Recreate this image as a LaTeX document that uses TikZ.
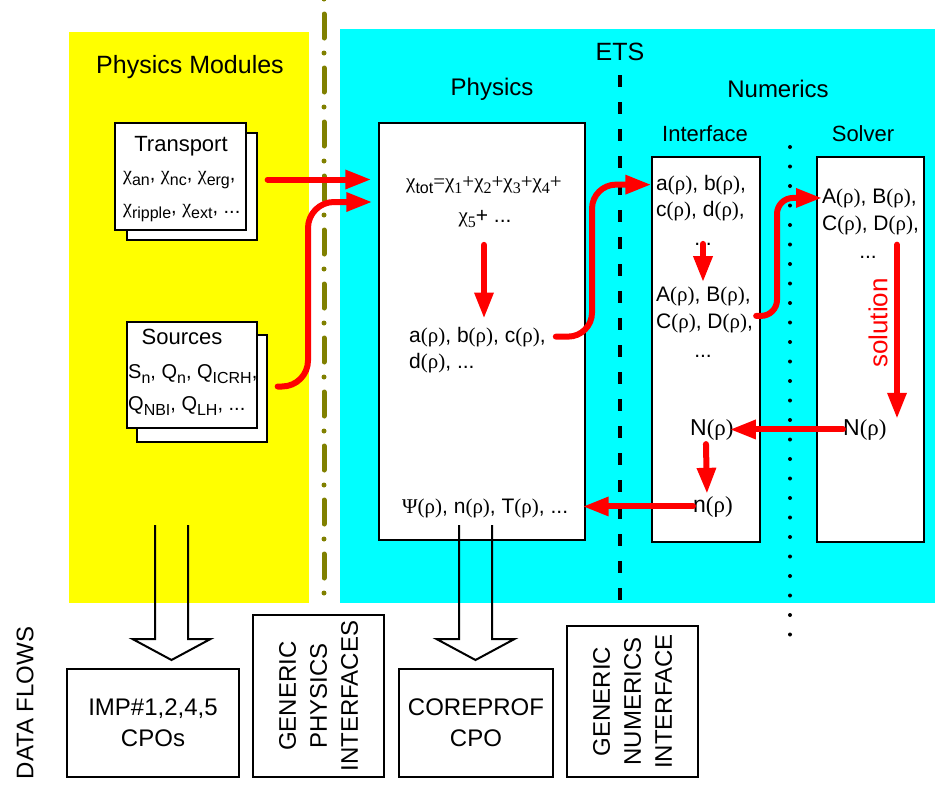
\documentclass[tikz,border=0pt]{standalone}
\usepackage{fontspec}
\setmainfont{Liberation Sans}
\newfontfamily\grk{Liberation Serif}
\usetikzlibrary{arrows.meta,positioning}

\definecolor{olv}{RGB}{128,128,0}
\definecolor{ylw}{RGB}{255,255,0}
\definecolor{cyn}{RGB}{0,255,255}
\newcommand{\chx}{{\grk χ}}
\newcommand{\rr}{{\grk (ρ)}}
\newcommand{\sbs}[1]{\raisebox{-5.5pt}{\fontsize{16}{16}\selectfont #1}}

\tikzset{
  txt/.style={inner sep=0pt,font=\fontsize{21}{25}\selectfont},
  lst/.style={inner sep=0pt,font=\fontsize{20}{24}\selectfont},
  var/.style={inner sep=0pt,font=\fontsize{23}{27}\selectfont},
  head/.style={inner sep=0pt,font=\fontsize{22}{26}\selectfont},
  title/.style={inner sep=0pt,font=\fontsize{25}{30}\selectfont},
  big/.style={inner sep=0pt,font=\fontsize{24}{31}\selectfont},
  box/.style={draw,fill=white,line width=1.3pt,inner sep=0pt},
  flow/.style={red,line width=6pt,line cap=round,-{Triangle[length=26pt,width=18pt]}},
  hollow/.style={line width=2pt}
}

\begin{document}
\begin{tikzpicture}[x=1pt,y=-1pt]
\useasboundingbox (0,0) rectangle (935,785);

% regions and separators
\fill[ylw] (69,32) rectangle (309,603);
\fill[cyn] (340,29) rectangle (935,603);
\draw[olv,line width=5pt,line cap=round,dash pattern=on 0pt off 15pt on 24pt off 15pt] (324,-1) -- (324,603);
\draw[line width=3.5pt,dash pattern=on 12pt off 15pt] (620,75) -- (620,605);
\draw[line width=4pt,line cap=round,dash pattern=on 0pt off 19.5pt] (790,147) -- (790,635);

% headings
\node[title] (pmod) at (190,67) {Physics Modules};
\node[title] (ets) at (620,52) {ETS};
\node[big] (phys) at (492,89) {Physics};
\node[big] (num) at (778,89) {Numerics};
\node[head] (iface) at (705,134) {Interface};
\node[head] (solver) at (863,134) {Solver};

% physics modules
\node[box,minimum width=130pt,minimum height=107pt] (trback) at (192,186.5) {};
\node[box,minimum width=131pt,minimum height=107pt] (trfront) at (180.5,176.5) {};
\node[head] (trtitle) at (181,146) {Transport};
\node[lst,anchor=base west] (trl1) at (123,180) {\chx\sbs{an}, \chx\sbs{nc}, \chx\sbs{erg},};
\node[lst,anchor=base west] (trl2) at (123,213) {\chx\sbs{ripple}, \chx\sbs{ext}, ...};

\node[box,minimum width=130pt,minimum height=107pt] (srback) at (202,388.5) {};
\node[box,minimum width=130pt,minimum height=106pt] (srfront) at (192,375) {};
\node[head] (srtitle) at (182,337) {Sources};
\node[lst,anchor=base west] (srl1) at (128,378) {S\sbs{n}, Q\sbs{n}, Q\sbs{ICRH},};
\node[lst,anchor=base west] (srl2) at (128,410) {Q\sbs{NBI}, Q\sbs{LH}, ...};

% ETS physics
\node[box,minimum width=206pt,minimum height=417pt] (physbox) at (482,331.5) {};
\node[txt,anchor=base] (chitot) at (484,188) {\chx\sbs{tot}{\grk =}\chx\sbs{\grk 1}{\grk +}\chx\sbs{\grk 2}{\grk +}\chx\sbs{\grk 3}{\grk +}\chx\sbs{\grk 4}{\grk +}};
\node[txt,anchor=base] (chifive) at (485,222) {\chx\sbs{\grk 5}+ ...};
\node[txt,anchor=base west] (abcd1) at (409,342) {a\rr, b\rr, c\rr,};
\node[txt,anchor=base west] (abcd2) at (409,368) {d\rr, ...};
\node[txt,anchor=base west] (psi) at (402,513) {{\grk Ψ(ρ)}, n\rr, T\rr, ...};

% ETS numerics
\node[box,minimum width=108pt,minimum height=385pt] (ifbox) at (706,349.5) {};
\node[txt,anchor=base west] (ifa1) at (656,190) {a\rr, b\rr,};
\node[txt,anchor=base west] (ifa2) at (656,216) {c\rr, d\rr,};
\node[txt,anchor=base] (ifdots1) at (703,245) {...};
\node[txt,anchor=base west] (ifA1) at (656,301) {A\rr, B\rr,};
\node[txt,anchor=base west] (ifA2) at (656,328) {C\rr, D\rr,};
\node[txt,anchor=base] (ifdots2) at (703,357) {...};
\node[var,anchor=base west] (ifN) at (690,435) {N\rr};
\node[var,anchor=base west] (ifn) at (693,512) {n\rr};

\node[box,minimum width=107pt,minimum height=385pt] (solbox) at (870.5,349.5) {};
\node[txt,anchor=base west] (solA1) at (822,203) {A\rr, B\rr,};
\node[txt,anchor=base west] (solA2) at (822,230) {C\rr, D\rr,};
\node[txt,anchor=base] (soldots) at (868,258) {...};
\node[var,anchor=base west] (solN) at (843,435) {N\rr};
\node[red,inner sep=0pt,font=\fontsize{26}{30}\selectfont,rotate=90] (soltxt) at (878,323) {solution};

% bends
\coordinate (sbend) at (308,202);
\coordinate (pbend) at (592,0);
\coordinate (ibend) at (777,0);
\coordinate (solx) at (897,0);

% data flow in the code
\draw[flow,shorten >=7pt] ([xshift=10pt,yshift=7pt]trback.east) -- ([yshift=7pt]physbox.west |- trback.east);
\draw[flow,rounded corners=26pt,shorten >=6pt] ([xshift=10pt,yshift=2pt]srback.east) -| (sbend) -- (physbox.west |- sbend);
\draw[flow,shorten <=17pt,shorten >=8pt] (chifive.south -| chitot) -- (chitot |- abcd1.north);
\draw[flow,rounded corners=24pt,shorten <=10pt] (abcd1.east) -| (pbend |- ifa1.west) -- (ifbox.west |- ifa1.west);
\draw[flow,shorten >=4pt] (ifdots1.center) -- (ifdots1.center |- ifA1.north);
\draw[flow,rounded corners=16pt,shorten <=3pt] ([yshift=7pt]ifA2.east) -| (ibend |- solA1.west) -- (solA1.west);
\draw[flow,shorten <=10pt] (solx |- solA2.south) -- (solx |- solN.north);
\draw[flow,shorten >=-4pt] (solN.west) -- (ifN.east);
\draw[flow,shorten <=4pt,shorten >=2pt] ([xshift=-6pt]ifN.south) -- ([xshift=-6pt]ifn.north);
\draw[flow,shorten >=-3pt] (ifn.west) -- (physbox.east |- ifn.west);

% data flows to the outside
\node[big,rotate=90] (dflows) at (25,703) {DATA FLOWS};
\node[box,big,align=center,minimum width=172pt,minimum height=108pt,inner sep=0pt] (imp) at (153,723) {IMP\#1,2,4,5\\CPOs};
\node[box,big,align=center,rotate=90,minimum width=162pt,minimum height=131pt] (gpi) at (318.5,696) {GENERIC\\PHYSICS\\INTERFACES};
\node[box,big,align=center,minimum width=154pt,minimum height=108pt] (cpo) at (476,723) {COREPROF\\CPO};
\node[box,big,align=center,rotate=90,minimum width=151pt,minimum height=131pt] (gni) at (632.5,701.5) {GENERIC\\NUMERICS\\INTERFACE};

\foreach \ax in {171.5,475.5}
  \draw[hollow] (\ax-16.5,525) -- (\ax-16.5,639) -- (\ax-39,639) -- (\ax,660) -- (\ax+39,639) -- (\ax+16.5,639) -- (\ax+16.5,525);
\end{tikzpicture}
\end{document}
